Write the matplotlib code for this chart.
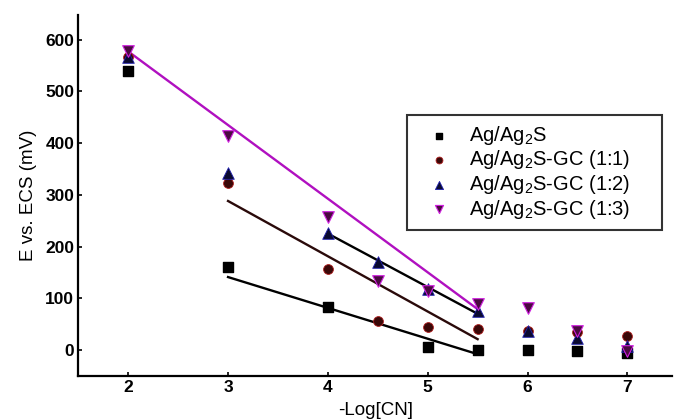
import matplotlib
matplotlib.use("Agg")
import matplotlib.pyplot as plt

plt.rcParams["font.family"] = ["Liberation Sans", "DejaVu Sans"]
plt.rcParams["mathtext.fontset"] = "custom"
plt.rcParams["mathtext.rm"] = "Liberation Sans"
plt.rcParams["mathtext.it"] = "Liberation Sans"

# -Log[CN-] positions
x_all = [2, 3, 4, 4.5, 5, 5.5, 6, 6.5, 7]
x_sq = [2, 3, 4, 5, 5.5, 6, 6.5, 7]

# measured potentials (mV)
e_ag = [540, 161, 84, 6, 1, 0, -2, -6]
e_gc11 = [566, 322, 157, 56, 44, 41, 37, 35, 27]
e_gc12 = [567, 342, 227, 171, 117, 75, 37, 23, 8]
e_gc13 = [578, 414, 257, 133, 114, 88, 82, 37, -2]

# linear fit segments (x ends, y ends)
fit_ag_x, fit_ag_y = [3, 5.5], [141, -8]
fit_11_x, fit_11_y = [3, 5.5], [288, 21]
fit_12_x, fit_12_y = [4, 5.5], [225, 70]
fit_13_x, fit_13_y = [2, 5.5], [577, 79]

labels = ["Ag/Ag$_2$S", "Ag/Ag$_2$S-GC (1:1)", "Ag/Ag$_2$S-GC (1:2)", "Ag/Ag$_2$S-GC (1:3)"]

fig = plt.figure(figsize=(6.75, 4.2), dpi=100)
ax = fig.add_axes([0.116, 0.105, 0.88, 0.86])

ax.plot(fit_ag_x, fit_ag_y, color="black", lw=1.7, zorder=2)
ax.plot(fit_11_x, fit_11_y, color="#2a0a0a", lw=1.7, zorder=2)
ax.plot(fit_12_x, fit_12_y, color="black", lw=1.7, zorder=2)
ax.plot(fit_13_x, fit_13_y, color="#b010c0", lw=1.7, zorder=2)

ax.scatter(x_all, e_gc11, marker="o", s=50, color="#3a0808", edgecolors="#b02020",
           linewidths=0.6, label=labels[1], zorder=3)
ax.scatter(x_sq, e_ag, marker="s", s=50, color="black", edgecolors="black",
           label=labels[0], zorder=3)
ax.scatter(x_all, e_gc12, marker="^", s=70, color="#0a0a30", edgecolors="#2020b0",
           linewidths=0.6, label=labels[2], zorder=3)
ax.scatter(x_all, e_gc13, marker="v", s=70, color="#4a0a40", edgecolors="#d020e0",
           linewidths=0.8, label=labels[3], zorder=4)

ax.set_xlim(1.5, 7.45)
ax.set_ylim(-50, 648)
ax.set_xticks([2, 3, 4, 5, 6, 7])
ax.set_yticks([0, 100, 200, 300, 400, 500, 600])
ax.tick_params(direction="in", length=3, width=1.2, labelsize=12.5, pad=3)
for lbl in ax.get_xticklabels() + ax.get_yticklabels():
    lbl.set_fontweight("bold")

for side in ["top", "right"]:
    ax.spines[side].set_visible(False)
for side in ["left", "bottom"]:
    ax.spines[side].set_linewidth(1.6)

ax.set_xlabel("-Log[CN]", fontsize=13.5, labelpad=5)
ax.set_ylabel("E vs. ECS (mV)", fontsize=13.5, labelpad=6)

handles, labs = ax.get_legend_handles_labels()
order = [1, 0, 2, 3]
leg = ax.legend([handles[i] for i in order], [labs[i] for i in order],
                loc="upper left", bbox_to_anchor=(0.554, 0.723, 0.429, 0.0),
                mode="expand", fontsize=14.5,
                frameon=True, fancybox=False, edgecolor="black",
                handlelength=2.2, handletextpad=0.4, labelspacing=0.08,
                borderpad=0.45, borderaxespad=0, markerscale=0.7)
leg.get_frame().set_linewidth(1.5)

fig.savefig("out.png", dpi=100)
